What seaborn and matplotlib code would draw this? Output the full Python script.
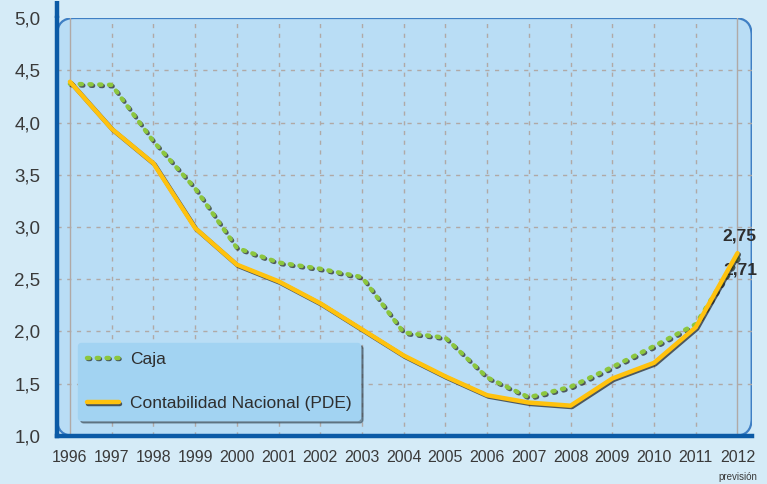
import matplotlib
matplotlib.use("Agg")
import matplotlib.pyplot as plt
import matplotlib.patheffects as pe
from matplotlib.patches import FancyBboxPatch
from matplotlib.transforms import blended_transform_factory
import seaborn as sns
import pandas as pd

years = [1996, 1997, 1998, 1999, 2000, 2001, 2002, 2003, 2004, 2005, 2006,
         2007, 2008, 2009, 2010, 2011, 2012]
caja = [4.37, 4.36, 3.82, 3.37, 2.80, 2.66, 2.60, 2.52, 1.99, 1.94, 1.56,
        1.37, 1.47, 1.66, 1.86, 2.07, 2.71]
pde = [4.39, 3.94, 3.61, 2.99, 2.64, 2.48, 2.27, 2.02, 1.77, 1.57, 1.39,
       1.32, 1.29, 1.55, 1.70, 2.04, 2.75]
xlabels = [str(y) for y in years]
ytick_vals = [1.0, 1.5, 2.0, 2.5, 3.0, 3.5, 4.0, 4.5, 5.0]
ytick_labels = ["1,0", "1,5", "2,0", "2,5", "3,0", "3,5", "4,0", "4,5", "5,0"]

df = pd.DataFrame({"year": years, "caja": caja, "pde": pde})

sns.set_theme(style="white")
plt.rcParams["font.family"] = ["Liberation Sans", "DejaVu Sans"]

outer_bg = "#d5ebf7"
panel_bg = "#b9ddf5"
dark_blue = "#0b5aa6"
text_col = "#3a3a3a"

fig = plt.figure(figsize=(7.67, 4.84), dpi=100, facecolor=outer_bg)
ax = fig.add_axes([0.0743, 0.0992, 0.9057, 0.8636])
ax.set_facecolor("none")

panel = FancyBboxPatch((0, 0), 1, 1, boxstyle="round,pad=0,rounding_size=0.025",
                       transform=ax.transAxes, facecolor=panel_bg,
                       edgecolor="#3f7fc4", linewidth=1.6, zorder=0,
                       mutation_aspect=695 / 418)
ax.add_patch(panel)

ax.set_xlim(1995.69, 2012.34)
ax.set_ylim(1.0, 5.0)

# grid
for y in ytick_vals[1:-1]:
    ax.axhline(y, color="#b0a9a6", lw=1.0, ls=(0, (3, 4)), zorder=1)
for x in years:
    if x in (1996, 2012):
        ax.axvline(x, color="#b0a9a6", lw=1.0, zorder=1)
    else:
        ax.axvline(x, color="#b0a9a6", lw=1.0, ls=(0, (3, 4)), zorder=1)

shadow = [pe.SimpleLineShadow(offset=(1, -1), shadow_color="#202020", alpha=0.7), pe.Normal()]

sns.lineplot(data=df, x="year", y="caja", ax=ax, color="#8cc63e", lw=3.2,
             linestyle=(0, (0.5, 1.7)), dash_capstyle="round",
             label="Caja", zorder=3, path_effects=shadow)
sns.lineplot(data=df, x="year", y="pde", ax=ax, color="#ffc20e", lw=3.2,
             label="Contabilidad Nacional (PDE)", zorder=4,
             solid_capstyle="round", path_effects=shadow)

ax.text(years[-1] + 0.05, pde[-1] + 0.09, "2,75", ha="center", va="bottom",
        fontsize=12.5, fontweight="bold", color="#2e2e2e")
ax.text(years[-1] + 0.07, caja[-1] - 0.05, "2,71", ha="center", va="top",
        fontsize=12.5, fontweight="bold", color="#2e2e2e")

ax.set_xticks(years)
ax.set_xticklabels(xlabels)
ax.set_yticks(ytick_vals)
ax.set_yticklabels(ytick_labels)
ax.set_xlabel("")
ax.set_ylabel("")

for s in ["top", "right"]:
    ax.spines[s].set_visible(False)
for s in ["left", "bottom"]:
    ax.spines[s].set_color(dark_blue)
    ax.spines[s].set_linewidth(3.2)
    ax.spines[s].set_zorder(5)
ax.plot([0, 0], [1, 1.04], transform=ax.transAxes, color=dark_blue, lw=3.2,
        clip_on=False, zorder=5, solid_capstyle="butt")

ax.tick_params(axis="x", direction="out", length=5, width=3, color=dark_blue,
               labelsize=11.5, labelcolor=text_col, pad=5)
ax.tick_params(axis="y", direction="in", length=5, width=3, color=dark_blue,
               labelsize=13.5, labelcolor=text_col, pad=12)

trans = blended_transform_factory(ax.transData, ax.transAxes)
ax.text(2012, -0.085, "previsión", transform=trans, ha="center", va="top",
        fontsize=7, color=text_col)

leg = ax.legend(loc="lower left", bbox_to_anchor=(0.03, 0.038), frameon=True,
                fancybox=True, shadow=True, facecolor="#a2d3f2",
                edgecolor="#a2d3f2", fontsize=12.5, handlelength=1.85,
                labelspacing=1.7, borderpad=0.5, handletextpad=0.65,
                borderaxespad=0)
leg.get_frame().set_alpha(1.0)
for t in leg.get_texts():
    t.set_color("#2e2e2e")

fig.savefig("out.png", dpi=100, facecolor=outer_bg)
